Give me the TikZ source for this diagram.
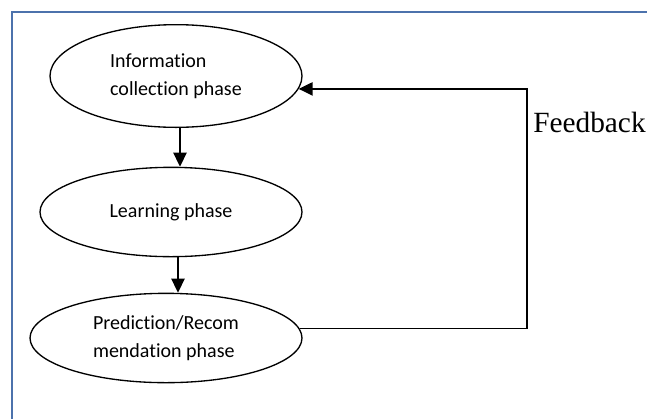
\documentclass[tikz,border=0pt]{standalone}
\usepackage{fontspec}
\setmainfont{Liberation Serif}
\newfontfamily\phasefont[Ligatures=CommonOff]{Carlito}
\usepackage{tikz}
\usetikzlibrary{shapes.geometric,arrows.meta}
\definecolor{FrameBlue}{RGB}{76,114,172}
\tikzset{%
  phase/.style={ellipse, draw, line width=1pt, inner sep=0pt, align=left,
    font=\phasefont\fontsize{15}{21}\selectfont},
  flow/.style={line width=1.1pt, -{Triangle[width=10pt,length=10.5pt]}},
  frame lines/.style={line width=1.1pt, color=FrameBlue}
}

\begin{document}
\begin{tikzpicture}[x=0.75pt,y=-0.75pt]
    \useasboundingbox (0,0) rectangle (647,419);
    % outer frame (top and left only):
    \draw[frame lines] (647,12) -- (12,12) -- (12,419);
    % phases:
    \node[phase, minimum width=189pt, minimum height=77pt] (info) at (176,76)
      {Information\\collection phase};
    \node[phase, minimum width=196.5pt, minimum height=67pt] (learn) at (171,212)
      {Learning phase};
    \node[phase, minimum width=204pt, minimum height=67pt] (pred) at (166,338)
      {Prediction/Recom\\mendation phase};
    % flow down:
    \draw[flow] (info.south -| 180,0) -- (learn.north -| 180,0);
    \draw[flow] (learn.south -| 178,0) -- (pred.north -| 178,0);
    % feedback loop:
    \coordinate (loop) at (527,0);
    \draw[flow] (pred.4) -- (pred.4 -| loop) |- (info.-6);
    \node[anchor=base west, inner sep=0pt, font=\fontsize{22}{26}\selectfont]
      (fb) at (533,132) {Feedback};
\end{tikzpicture}
\end{document}
